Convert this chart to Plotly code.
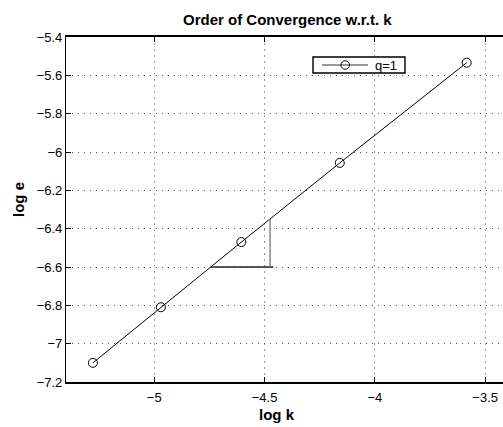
import plotly.graph_objects as go

# data (natural logs)
log_k = [-5.2781, -4.9698, -4.6052, -4.1589, -3.5835]
log_e = [-7.10, -6.81, -6.47, -6.057, -5.534]
series_name = "q=1"

# slope triangle
tri_h_x = [-4.745, -4.46]
tri_h_y = [-6.60, -6.60]
tri_v_x = [-4.475, -4.475]
tri_v_y = [-6.60, -6.35]

x_ticks = [-5, -4.5, -4, -3.5]
x_tick_text = ["\u22125", "\u22124.5", "\u22124", "\u22123.5"]
y_ticks = [-7.2, -7.0, -6.8, -6.6, -6.4, -6.2, -6.0, -5.8, -5.6, -5.4]
y_tick_text = ["\u22127.2", "\u22127", "\u22126.8", "\u22126.6", "\u22126.4",
               "\u22126.2", "\u22126", "\u22125.8", "\u22125.6", "\u22125.4"]

W, H = 503, 427
L, R, T, B = 66, 0, 37, 45
pw, ph = W - L - R, H - T - B

FONT = "Liberation Sans, Arial, Helvetica, sans-serif"

def px(xp):
    return (xp - L) / pw

def py(yp):
    return 1 - (yp - T) / ph

fig = go.Figure()
fig.add_trace(go.Scatter(
    x=log_k, y=log_e, mode="lines+markers", name=series_name,
    line=dict(color="black", width=1),
    marker=dict(symbol="circle-open", size=9, color="black", line=dict(width=1)),
))
fig.add_trace(go.Scatter(x=tri_h_x, y=tri_h_y, mode="lines", showlegend=False,
                         line=dict(color="#222", width=1.5), hoverinfo="skip"))
fig.add_trace(go.Scatter(x=tri_v_x, y=tri_v_y, mode="lines", showlegend=False,
                         line=dict(color="#888", width=1.5), hoverinfo="skip"))

# manual legend (MATLAB style)
shapes = [
    dict(type="rect", xref="paper", yref="paper", x0=px(313), x1=px(405),
         y0=py(73), y1=py(57), line=dict(color="black", width=1.4), fillcolor="white", layer="above"),
    dict(type="line", xref="paper", yref="paper", x0=px(322), x1=px(368),
         y0=py(65), y1=py(65), line=dict(color="#333", width=1), layer="above"),
    dict(type="circle", xref="paper", yref="paper", x0=px(341), x1=px(349.5),
         y0=py(69.2), y1=py(60.8), line=dict(color="black", width=1), layer="above"),
]

fig.update_layout(
    width=W, height=H,
    margin=dict(l=L, r=R, t=T, b=B, pad=0),
    paper_bgcolor="white", plot_bgcolor="white",
    font=dict(family=FONT, size=13, color="black"),
    showlegend=False,
    shapes=shapes,
    xaxis=dict(
        range=[-5.4, -5.4 + pw / 220.6],
        tickvals=x_ticks, ticktext=x_tick_text,
        ticks="inside", ticklen=5, tickcolor="black",
        showline=True, linecolor="black", linewidth=1.6, mirror="allticks",
        showgrid=True, gridcolor="#a0a0a0", griddash="2px,4px", gridwidth=1,
        zeroline=False, tickfont=dict(size=13), ticklabelstandoff=3,
    ),
    yaxis=dict(
        range=[-7.2, -5.4],
        tickvals=y_ticks, ticktext=y_tick_text,
        ticks="inside", ticklen=5, tickcolor="black",
        showline=True, linecolor="black", linewidth=1.2, mirror=False,
        showgrid=True, gridcolor="#555", griddash="1px,5px", gridwidth=1,
        zeroline=False, tickfont=dict(size=13),
    ),
    annotations=[
        dict(text="q=1", xref="paper", yref="paper",
             x=px(373), y=py(65), xanchor="left", yanchor="middle",
             showarrow=False, font=dict(size=13)),
        dict(text="<b>Order of Convergence w.r.t. k</b>", xref="paper", yref="paper",
             x=px(287), y=py(19.5), xanchor="center", yanchor="middle",
             showarrow=False, font=dict(size=15)),
        dict(text="<b>log k</b>", xref="paper", yref="paper",
             x=px(277), y=py(414), xanchor="center", yanchor="middle",
             showarrow=False, font=dict(size=15)),
        dict(text="<b>log e</b>", xref="paper", yref="paper",
             x=px(18), y=py(200), xanchor="center", yanchor="middle",
             textangle=-90, showarrow=False, font=dict(size=15)),
    ],
)

fig.write_html("out.html")
